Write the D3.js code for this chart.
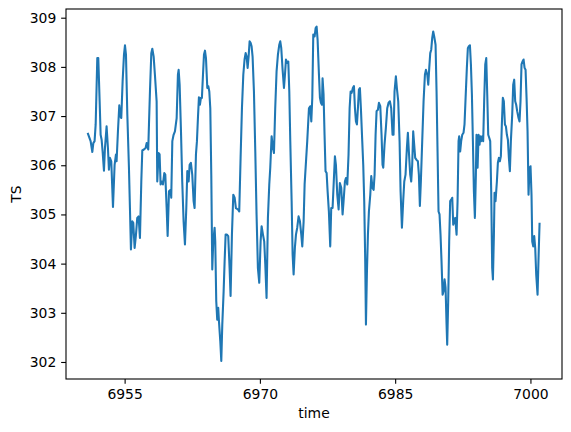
<!DOCTYPE html>
<html>
<head>
<meta charset="utf-8">
<script src="https://cdn.jsdelivr.net/npm/d3@7"></script>
<style>
  html, body { margin: 0; padding: 0; background: #ffffff; }
  svg { display: block; }
  text { font-family: "DejaVu Sans", sans-serif; fill: #000; }
</style>
</head>
<body>
<svg id="chart" width="571" height="432"></svg>
<script>
// ---- data ----
const time = [
  6950.94, 6951.23, 6951.42, 6951.53, 6951.67, 6951.79, 6951.97, 6952.08, 6952.23, 6952.34,
  6952.45, 6952.56, 6952.71, 6952.82, 6953.00, 6953.15, 6953.26, 6953.37, 6953.52, 6953.71,
  6953.89, 6954.04, 6954.11, 6954.26, 6954.41, 6954.52, 6954.63, 6954.78, 6954.93, 6955.04,
  6955.15, 6955.30, 6955.48, 6955.59, 6955.70, 6955.85, 6955.96, 6956.11, 6956.26, 6956.40,
  6956.55, 6956.70, 6956.85, 6956.96, 6957.14, 6957.33, 6957.44, 6957.62, 6957.70, 6957.81,
  6957.96, 6958.07, 6958.22, 6958.36, 6958.55,
  6958.62, 6958.77, 6958.88, 6958.99, 6959.10, 6959.25, 6959.40, 6959.51, 6959.66, 6959.77,
  6959.92, 6960.10, 6960.17, 6960.29, 6960.43, 6960.58, 6960.77, 6960.91, 6960.99, 6961.10,
  6961.25, 6961.39, 6961.54, 6961.69, 6961.84, 6961.95, 6962.10, 6962.21, 6962.35, 6962.50,
  6962.65, 6962.76, 6962.91, 6963.02, 6963.13, 6963.24, 6963.35, 6963.46, 6963.57, 6963.69,
  6963.80, 6963.91, 6964.02, 6964.17, 6964.28, 6964.39, 6964.50, 6964.61, 6964.72, 6964.83,
  6964.98, 6965.05, 6965.16, 6965.27, 6965.38, 6965.46, 6965.61, 6965.72, 6965.83, 6965.98,
  6966.09, 6966.20, 6966.35, 6966.49, 6966.64, 6966.75,
  6966.90, 6967.05, 6967.20, 6967.34, 6967.57, 6967.71, 6967.86, 6968.01, 6968.16, 6968.30,
  6968.42, 6968.53, 6968.64, 6968.75, 6968.86, 6968.97, 6969.08, 6969.19, 6969.34, 6969.49,
  6969.63, 6969.78, 6969.93, 6970.08, 6970.19, 6970.34, 6970.48, 6970.60, 6970.74, 6970.89,
  6971.04, 6971.15, 6971.30, 6971.45, 6971.56, 6971.70, 6971.85, 6972.00, 6972.15, 6972.26,
  6972.37, 6972.52, 6972.67, 6972.78, 6972.89, 6973.03, 6973.15, 6973.26, 6973.37, 6973.52,
  6973.63, 6973.74, 6973.88, 6974.00, 6974.14, 6974.29, 6974.44, 6974.59, 6974.70, 6974.85,
  6974.96,
  6975.25, 6975.44, 6975.58, 6975.70, 6975.81, 6975.92, 6976.07, 6976.18, 6976.29, 6976.40,
  6976.55, 6976.66, 6976.77, 6976.88, 6976.95, 6977.06, 6977.17, 6977.28, 6977.40, 6977.51,
  6977.65, 6977.80, 6977.91, 6978.06, 6978.21, 6978.32, 6978.43, 6978.58, 6978.73, 6978.87,
  6979.02, 6979.17, 6979.28, 6979.43, 6979.54, 6979.69, 6979.83, 6979.95, 6980.06, 6980.17,
  6980.31, 6980.43, 6980.54, 6980.65, 6980.76, 6980.87, 6980.98, 6981.09, 6981.20, 6981.35,
  6981.46, 6981.57, 6981.68, 6981.76, 6981.87, 6981.98, 6982.09, 6982.24, 6982.35, 6982.49,
  6982.61, 6982.72, 6982.83, 6982.94, 6983.09, 6983.20, 6983.35,
  6983.49, 6983.60, 6983.68, 6983.82, 6983.97, 6984.12, 6984.27, 6984.42, 6984.56, 6984.71,
  6984.82, 6984.93, 6985.08, 6985.19, 6985.34, 6985.49, 6985.60, 6985.75, 6985.89, 6986.01,
  6986.15, 6986.30, 6986.41, 6986.52, 6986.67, 6986.78, 6986.89, 6987.00, 6987.11, 6987.22,
  6987.37, 6987.52, 6987.63, 6987.74, 6987.85, 6988.00, 6988.15, 6988.30, 6988.41, 6988.56,
  6988.67, 6988.78, 6988.89, 6989.00, 6989.11, 6989.22, 6989.33, 6989.48, 6989.59, 6989.70,
  6989.81, 6989.92, 6990.03, 6990.14, 6990.26, 6990.37, 6990.48, 6990.59, 6990.70, 6990.77,
  6990.88, 6990.99, 6991.10, 6991.22, 6991.33, 6991.44, 6991.55, 6991.66,
  6991.81, 6991.92, 6992.03, 6992.10, 6992.21, 6992.32, 6992.44, 6992.58, 6992.69, 6992.81,
  6992.95, 6993.06, 6993.17, 6993.29, 6993.40, 6993.51, 6993.62, 6993.73, 6993.84, 6993.95,
  6994.02, 6994.14, 6994.25, 6994.36, 6994.43, 6994.54, 6994.65, 6994.76, 6994.87, 6994.99,
  6995.10, 6995.21, 6995.32, 6995.43, 6995.54, 6995.65, 6995.76, 6995.84, 6995.95, 6996.02,
  6996.13, 6996.28, 6996.39, 6996.50, 6996.61, 6996.72, 6996.83, 6996.94, 6997.05, 6997.17,
  6997.28, 6997.39, 6997.50, 6997.61, 6997.72, 6997.83, 6997.98, 6998.09, 6998.20, 6998.31,
  6998.42, 6998.53, 6998.68, 6998.79, 6998.90, 6999.01, 6999.12, 6999.24, 6999.35, 6999.46,
  6999.57, 6999.68, 6999.79, 6999.90, 7000.01, 7000.12, 7000.20, 7000.31, 7000.42, 7000.53,
  7000.64, 7000.79, 7000.90, 7001.01
];
const TS = [
  306.64, 306.49, 306.27, 306.45, 306.49, 306.83, 308.18, 308.18, 307.30, 306.62,
  306.52, 306.28, 305.89, 306.35, 306.79, 306.35, 305.91, 306.15, 306.08, 305.15,
  306.01, 306.22, 306.08, 306.69, 307.22, 307.00, 306.96, 307.71, 308.25, 308.44,
  308.25, 307.03, 305.95, 305.13, 304.29, 304.86, 304.83, 304.32, 304.59, 304.93,
  304.96, 304.52, 305.67, 306.30, 306.32, 306.35, 306.45, 306.32, 306.83, 307.50,
  308.28, 308.37, 308.21, 307.84, 307.30,
  305.67, 306.25, 306.22, 305.61, 305.67, 305.61, 305.84, 305.81, 305.13, 304.56,
  305.47, 305.50, 305.34, 306.49, 306.62, 306.69, 306.96, 307.84, 307.94, 307.64,
  306.69, 305.67, 304.86, 304.39, 305.13, 305.88, 305.67, 306.01, 306.05, 305.81,
  305.27, 305.13, 306.22, 306.49, 306.96, 307.38, 307.23, 307.37, 307.37, 307.84,
  308.25, 308.33, 308.18, 307.57, 307.61, 307.50, 307.16, 305.81, 303.88, 304.45,
  304.73, 304.45, 303.24, 302.86, 303.10, 302.83, 302.42, 302.02, 302.76, 303.44,
  304.05, 304.59, 304.59, 304.56, 303.91, 303.34,
  304.59, 305.40, 305.34, 305.13, 305.10, 305.06, 306.15, 307.16, 307.84, 308.15,
  308.28, 308.21, 307.98, 308.21, 308.52, 308.49, 308.42, 308.21, 307.50, 306.28,
  305.00, 303.91, 303.61, 304.45, 304.76, 304.59, 304.45, 303.98, 303.30, 304.93,
  305.61, 305.95, 306.59, 306.35, 306.25, 307.16, 307.91, 308.25, 308.45, 308.52,
  308.38, 307.94, 307.57, 307.84, 308.15, 308.08, 308.11, 307.50, 306.49, 305.27,
  304.18, 303.78, 304.32, 304.59, 304.73, 304.96, 304.86, 304.59, 304.35, 304.86,
  305.61,
  306.49, 307.16, 307.20, 306.89, 307.37, 308.66, 308.62, 308.79, 308.82, 308.55,
  307.84, 307.37, 307.27, 307.23, 307.77, 307.44, 306.62, 305.88, 305.84, 305.47,
  305.06, 304.35, 305.13, 305.13, 305.74, 306.18, 306.01, 305.40, 305.10, 305.64,
  305.54, 305.00, 305.27, 305.67, 305.74, 305.61, 306.22, 307.16, 307.50, 307.47,
  307.57, 307.61, 307.16, 306.89, 306.83, 307.16, 307.54, 307.57, 307.16, 306.49,
  306.01, 305.27, 304.05, 302.76, 303.84, 304.59, 305.06, 305.40, 305.78, 305.54,
  305.50, 305.81, 306.62, 307.10, 307.13, 307.27, 307.20,
  306.62, 306.01, 305.95, 306.42, 306.76, 307.16, 307.27, 307.30, 307.16, 306.62,
  306.62, 307.50, 307.81, 307.57, 307.30, 306.49, 305.47, 304.73, 305.27, 305.67,
  305.81, 306.35, 306.66, 306.28, 305.81, 305.67, 306.01, 306.69, 306.42, 306.15,
  306.11, 306.08, 305.81, 305.17, 305.67, 306.49, 307.30, 307.84, 307.94, 307.84,
  307.64, 307.98, 308.28, 308.35, 308.59, 308.72, 308.62, 308.45, 307.50, 306.28,
  305.06, 305.00, 304.59, 304.05, 303.37, 303.44, 303.68, 303.51, 302.76, 302.35,
  303.24, 304.45, 305.27, 305.30, 305.34, 304.79, 304.86, 304.93,
  304.59, 305.27, 306.49, 306.59, 306.28, 306.49, 306.62, 306.66, 306.83, 307.37,
  307.98, 308.38, 308.42, 308.44, 308.05, 307.44, 306.49, 305.47, 304.93, 305.81,
  306.62, 305.95, 306.62, 306.42, 306.59, 306.49, 306.59, 306.49, 307.30, 308.05,
  308.18, 307.44, 306.62, 306.56, 306.49, 305.47, 303.91, 303.68, 304.59, 305.44,
  305.27, 305.67, 306.05, 306.15, 306.08, 306.18, 306.83, 307.37, 307.30, 306.83,
  306.79, 306.62, 306.52, 306.15, 305.88, 306.49, 307.03, 307.64, 307.74, 307.30,
  307.23, 307.10, 306.96, 306.89, 307.30, 308.05, 308.11, 308.15, 307.98, 307.94,
  307.37, 306.69, 305.40, 305.95, 305.98, 305.40, 304.45, 304.35, 304.56, 304.32,
  303.78, 303.37, 304.12, 304.81
];
const xTicks = [6955, 6970, 6985, 7000];
const yTicks = [302, 303, 304, 305, 306, 307, 308, 309];
const xLabel = "time";
const yLabel = "TS";

// ---- layout ----
const mLeft = 66, mRight = 562, mTop = 9, mBottom = 379;
const svg = d3.select("#chart");

const x = d3.scaleLinear().domain([6948.5, 7003.5]).range([mLeft, mRight]);
const y = d3.scaleLinear().domain([301.654, 309.177]).range([mBottom, mTop]);

const fontPx = 13.9;
const tickLen = 4.86;

// line
const pts = d3.zip(time, TS);
const lineGen = d3.line().x(d => x(d[0])).y(d => y(d[1]));
svg.append("path")
  .datum(pts)
  .attr("d", lineGen)
  .attr("fill", "none")
  .attr("stroke", "#1f77b4")
  .attr("stroke-width", 2.08)
  .attr("stroke-linejoin", "round")
  .attr("stroke-linecap", "square");

// x axis
const xAxis = d3.axisBottom(x).tickValues(xTicks).tickSizeInner(tickLen).tickSizeOuter(0).tickPadding(4.86).tickFormat(d3.format("d"));
const gx = svg.append("g").attr("transform", `translate(0,${mBottom})`).call(xAxis);
gx.select(".domain").remove();
gx.selectAll(".tick line").attr("stroke", "#000").attr("stroke-width", 1.1);
gx.selectAll(".tick text").attr("font-size", fontPx).attr("font-family", "DejaVu Sans").attr("fill", "#000");

// y axis
const yAxis = d3.axisLeft(y).tickValues(yTicks).tickSizeInner(tickLen).tickSizeOuter(0).tickPadding(4.86).tickFormat(d3.format("d"));
const gy = svg.append("g").attr("transform", `translate(${mLeft},0)`).call(yAxis);
gy.select(".domain").remove();
gy.selectAll(".tick line").attr("stroke", "#000").attr("stroke-width", 1.1);
gy.selectAll(".tick text").attr("font-size", fontPx).attr("font-family", "DejaVu Sans").attr("fill", "#000");

// frame (spines)
svg.append("rect")
  .attr("x", mLeft).attr("y", mTop)
  .attr("width", mRight - mLeft).attr("height", mBottom - mTop)
  .attr("fill", "none").attr("stroke", "#000").attr("stroke-width", 1.1);

// axis labels
svg.append("text")
  .attr("x", (mLeft + mRight) / 2).attr("y", 418)
  .attr("text-anchor", "middle").attr("font-size", fontPx)
  .text(xLabel);
svg.append("text")
  .attr("transform", `translate(21,${(mTop + mBottom) / 2}) rotate(-90)`)
  .attr("text-anchor", "middle").attr("font-size", fontPx)
  .text(yLabel);
</script>
</body>
</html>
